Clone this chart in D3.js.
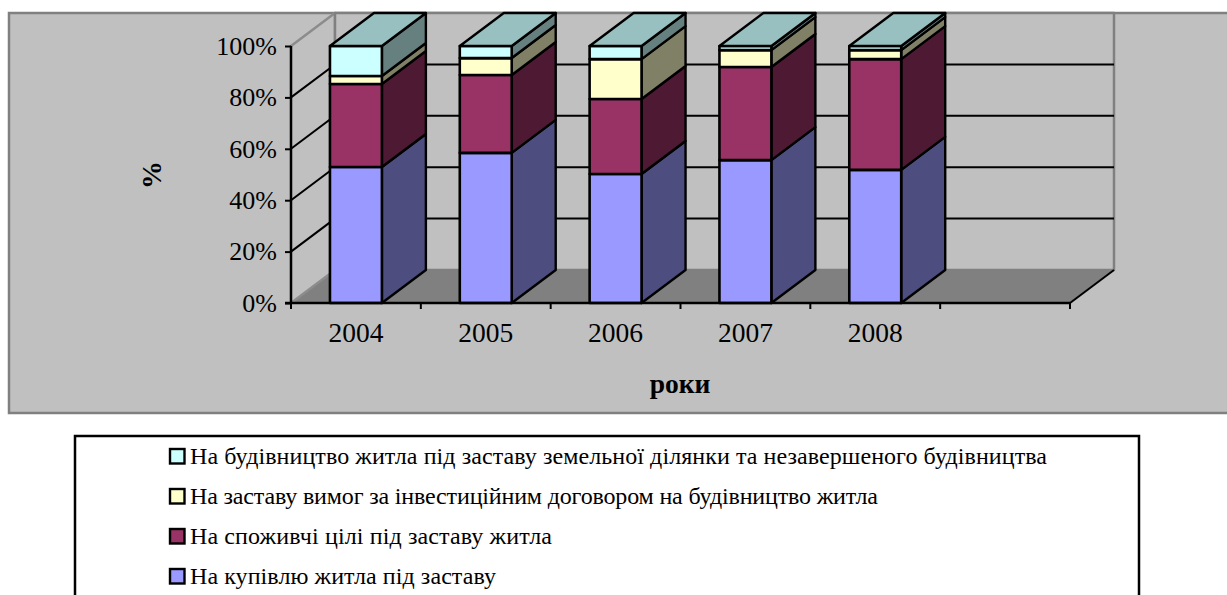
<!DOCTYPE html>
<html lang="uk">
<head>
<meta charset="utf-8">
<title>Структура кредитів</title>
<script src="https://cdn.jsdelivr.net/npm/d3@7/dist/d3.min.js"></script>
<style>
  html, body { margin: 0; padding: 0; background: #fff; overflow: hidden; }
  svg { display: block; font-family: "Liberation Serif", "Times New Roman", serif; }
</style>
</head>
<body>
<svg id="chart" width="1227" height="595"></svg>
<script>
// Loan structure by year, share of total in percent (stack tops, bottom to top)
const years = ["2004", "2005", "2006", "2007", "2008"];
const slots = ["2004", "2005", "2006", "2007", "2008", ""];
const percentTicks = [0, 20, 40, 60, 80, 100];
const seriesNames = [
  "На купівлю житла під заставу",
  "На споживчі цілі під заставу житла",
  "На заставу вимог за інвестиційним договором на будівництво житла",
  "На будівництво житла під заставу земельної ділянки та незавершеного будівництва"
];
const purchase = [52.9, 58.4, 50.2, 55.6, 51.8];
const consumer = [32.3, 30.3, 29.2, 36.2, 43.1];
const investment = [3.1, 6.6, 15.5, 6.6, 3.5];
const construction = [11.7, 4.7, 5.1, 1.6, 1.6];
const seriesValues = [purchase, consumer, investment, construction];
const frontColors = ["#9999ff", "#993366", "#ffffcc", "#ccffff"];
const sideColors = ["#4d4d80", "#4d1933", "#808066", "#668080"];
const topColor = "#99c0c0";

const svg = d3.select("#chart");

// Chart area panel
svg.append("rect").attr("x", 9).attr("y", 13).attr("width", 1230).attr("height", 400)
  .attr("fill", "#c0c0c0").attr("stroke", "#808080").attr("stroke-width", 2.5);

// Front plane of the 3-D box and the depth offset towards the back wall
const x = d3.scaleBand().domain(slots).range([291, 1070]).paddingInner(0).paddingOuter(0);
const y = d3.scaleLinear().domain([0, 100]).range([303, 46]);
const depthX = 44, depthY = -33;
const barWidth = x.bandwidth() * 0.4;
const barX = d => x(d) + (x.bandwidth() - barWidth) / 2;

const poly = (points, fill, stroke, width) => svg.append("polygon")
  .attr("points", points.map(p => p.join(",")).join(" "))
  .attr("fill", fill).attr("stroke", stroke || "none").attr("stroke-width", width || 0)
  .attr("stroke-linejoin", "round");

const [x0, x1] = x.range();
const yBase = y(0), yTop = y(100);

// Floor first, then the left and back walls
poly([[x0, yBase], [x0 + depthX, yBase + depthY], [x1 + depthX, yBase + depthY], [x1, yBase]], "#808080", "#808080", 1);
poly([[x0, yBase], [x0 + depthX, yBase + depthY], [x0 + depthX, yTop + depthY], [x0, yTop]], "#c0c0c0", "#8c8c8c", 2.5);
poly([[x0 + depthX, yBase + depthY], [x1 + depthX, yBase + depthY], [x1 + depthX, yTop + depthY], [x0 + depthX, yTop + depthY]], "#c0c0c0", "#808080", 2.5);
svg.append("line").attr("x1", x1).attr("y1", yBase).attr("x2", x1 + depthX).attr("y2", yBase + depthY)
  .attr("stroke", "#000").attr("stroke-width", 2);

// Gridlines run along the left wall and across the back wall
percentTicks.filter(t => t > 0 && t < 100).forEach(t => {
  svg.append("polyline")
    .attr("points", [[x0, y(t)], [x0 + depthX, y(t) + depthY], [x1 + depthX, y(t) + depthY]].map(p => p.join(",")).join(" "))
    .attr("fill", "none").attr("stroke", "#000").attr("stroke-width", 2);
});

// Stacked prisms: side faces and fronts from the bottom segment upward
years.forEach((year, i) => {
  let cumulative = 0;
  const left = barX(year), right = left + barWidth;
  seriesValues.forEach((values, s) => {
    const low = y(cumulative);
    cumulative += values[i];
    const high = y(cumulative);
    poly([[right, low], [right + depthX, low + depthY], [right + depthX, high + depthY], [right, high]], sideColors[s], "#000", 2.4);
    poly([[left, low], [right, low], [right, high], [left, high]], frontColors[s], "#000", 2.6);
    if (s === seriesValues.length - 1) {
      poly([[left, high], [right, high], [right + depthX, high + depthY], [left + depthX, high + depthY]], topColor, "#000", 2.4);
    }
  });
});

// Value axis
const yAxis = svg.append("g").attr("transform", `translate(${x0},0)`)
  .call(d3.axisLeft(y).tickValues(percentTicks).tickFormat(d => d + "%").tickSize(6).tickPadding(8));
yAxis.select(".domain").attr("stroke", "#000").attr("stroke-width", 2.4).attr("d", `M0,${yBase}V${yTop}`);
yAxis.selectAll(".tick line").attr("stroke", "#000").attr("stroke-width", 2);
yAxis.selectAll("text").attr("font-size", 26).attr("font-family", "'Liberation Serif', serif").attr("fill", "#000");

// Category axis, with ticks on the slot boundaries
svg.append("line").attr("x1", x0 - 6).attr("x2", x1).attr("y1", yBase).attr("y2", yBase)
  .attr("stroke", "#000").attr("stroke-width", 2.6);
const boundaries = slots.map(d => x(d)).concat([x1]);
svg.selectAll(".slot-tick").data(boundaries).join("line").attr("class", "slot-tick")
  .attr("x1", d => d).attr("x2", d => d).attr("y1", yBase).attr("y2", yBase + 6)
  .attr("stroke", "#000").attr("stroke-width", 2);
svg.selectAll(".year-label").data(years).join("text").attr("class", "year-label")
  .attr("x", d => x(d) + x.bandwidth() / 2).attr("y", 342)
  .attr("text-anchor", "middle").attr("font-size", 27.5).text(d => d);

// Axis titles
svg.append("text").attr("x", 680).attr("y", 393).attr("text-anchor", "middle")
  .attr("font-size", 27.5).attr("font-weight", "bold").text("роки");
svg.append("text").attr("transform", "translate(161,175) rotate(-90)").attr("text-anchor", "middle")
  .attr("font-size", 28).attr("font-weight", "bold").text("%");

// Legend box, newest series on top; each entry is fitted to its measured run length
const legendWidths = [306, 362, 688, 857];
svg.append("rect").attr("x", 75).attr("y", 436).attr("width", 1064).attr("height", 170)
  .attr("fill", "#fff").attr("stroke", "#000").attr("stroke-width", 2.5);
const legendOrder = d3.range(seriesNames.length).reverse();
const legendY = d3.scalePoint().domain(legendOrder).range([456, 576]);
const legend = svg.selectAll(".legend-row").data(legendOrder).join("g").attr("class", "legend-row")
  .attr("transform", d => `translate(170,${legendY(d)})`);
legend.append("rect").attr("x", 0).attr("y", -7).attr("width", 14.5).attr("height", 14.5)
  .attr("fill", d => frontColors[d]).attr("stroke", "#000").attr("stroke-width", 2.4);
legend.append("text").attr("x", 20).attr("y", 8).attr("font-size", 24)
  .attr("textLength", d => legendWidths[d]).attr("lengthAdjust", "spacing").text(d => seriesNames[d]);
</script>
</body>
</html>
